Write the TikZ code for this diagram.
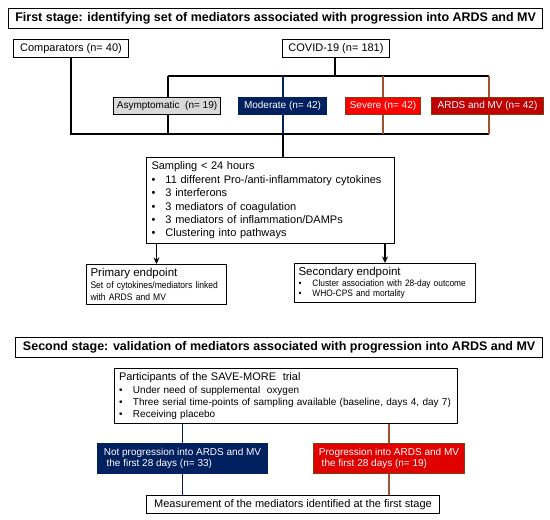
\documentclass[tikz,border=0pt]{standalone}
\usepackage{fontspec}
\setmainfont{Liberation Sans}
\newfontfamily\narrowfont[FakeStretch=0.9]{Liberation Sans}
\usetikzlibrary{arrows.meta}
\definecolor{navy}{HTML}{002060}
\definecolor{sevred}{HTML}{FF0000}
\definecolor{ardsred}{HTML}{C00000}
\definecolor{brn}{HTML}{7F3F10}
\definecolor{brnline}{HTML}{A0522D}
\definecolor{asy}{HTML}{D9D9D9}
\definecolor{progred}{HTML}{E00000}
\newcommand{\bul}[1][13pt]{\makebox[#1][l]{\textbullet}}
\begin{document}
\begin{tikzpicture}[x=1pt,y=-1pt,
  box/.style={draw=black, line width=1pt, inner sep=0pt, anchor=north west,
    font=\fontsize{11}{13}\selectfont},
  rowbox/.style={box, font=\fontsize{10}{12}\selectfont, minimum height=17},
  ttl/.style={draw=black, line width=1.3pt, inner sep=0pt, anchor=north west,
    font=\bfseries\fontsize{12.5}{14}\selectfont},
  conn/.style={line width=1.1pt},
  arr/.style={line width=1.1pt, -{Stealth[length=6.5pt,width=6pt]}}
]
\useasboundingbox (0,0) rectangle (550,520);

% ---------- first stage ----------
\node[ttl, minimum width=534, minimum height=20] (t1) at (8,8)
  {First stage: identifying set of mediators associated with progression into ARDS and MV};
\node[box, minimum width=115, minimum height=18] (comp) at (13,39) {Comparators (n= 40)};
\node[box, minimum width=107, minimum height=18] (covid) at (282,39) {COVID-19 (n= 181)};

\node[rowbox, fill=asy, minimum width=107] (asym) at (113,97) {Asymptomatic\ \ (n= 19)};
\node[rowbox, draw=navy, fill=navy, text=white, minimum width=88] (mod) at (238,97) {Moderate (n= 42)};
\node[rowbox, draw=brn, fill=sevred, text=white, minimum width=75] (sev) at (345,97) {Severe (n= 42)};
\node[rowbox, draw=brn, fill=ardsred, text=white, minimum width=112] (ards) at (431,97) {ARDS and MV (n= 42)};

\coordinate (hc) at (335,76);
\coordinate (hL) at (168,76);
\coordinate (hM) at (283,76);
\coordinate (hS) at (383,76);
\coordinate (hR) at (489,76);
\coordinate (lo) at (0,134);

\draw[conn] (covid.south -| hc) -- (hc);
\draw[conn] (hL) -- (hR);
\draw[conn] (hL) -- (hL |- asym.north);
\draw[conn, navy] (hM) -- (hM |- mod.north);
\draw[conn, brnline] (hS) -- (hS |- sev.north);
\draw[conn, brnline] (hR) -- (hR |- ards.north);

\node[box, minimum width=248, minimum height=86, inner xsep=5pt, text width=238, align=left,
  font=\fontsize{11}{13.4}\selectfont] (samp) at (146,157)
  {Sampling < 24 hours\\
   \bul[14pt]11 different Pro-/anti-inflammatory cytokines\\
   \bul[14pt]3 interferons\\
   \bul[14pt]3 mediators of coagulation\\
   \bul[14pt]3 mediators of inflammation/DAMPs\\
   \bul[14pt]Clustering into pathways};

\draw[conn] (comp.south) |- (hR |- lo);
\draw[conn] (hL |- asym.south) -- (hL |- lo);
\draw[conn, navy] (hM |- mod.south) -- (hM |- lo);
\draw[conn, brnline] (hS |- sev.south) -- (hS |- lo);
\draw[conn, brnline] (hR |- ards.south) -- (hR |- lo);
\draw[conn] (hM |- lo) -- (hM |- samp.north);

\node[box, minimum width=140, minimum height=40, inner xsep=4pt, text width=132, align=left,
  font=\narrowfont\fontsize{9.5}{11.5}\selectfont] (prim) at (86,264)
  {{\rmfamily\fontsize{11.5}{12}\selectfont Primary endpoint}\\[0.5pt]
   \mbox{Set of cytokines/mediators linked}\\ \mbox{with ARDS and MV}};
\node[box, minimum width=181, minimum height=39, inner xsep=4pt, text width=173, align=left,
  font=\narrowfont\fontsize{9.3}{10.5}\selectfont] (sec) at (294,263)
  {{\rmfamily\fontsize{11.5}{12}\selectfont Secondary endpoint}\\[0.5pt]
   \mbox{\bul[14pt]Cluster association with\ 28-day outcome}\\ \mbox{\bul[14pt]WHO-CPS and mortality}};

\draw[arr] (prim.north |- samp.south) -- (prim.north);
\draw[arr] (sec.north |- samp.south) -- (sec.north);

% ---------- second stage ----------
\node[ttl, minimum width=527, minimum height=20] (t2) at (15,337)
  {Second stage: validation of mediators associated with progression into ARDS and MV};
\node[box, minimum width=343, minimum height=55, inner xsep=4.5pt, text width=334, align=left,
  font=\fontsize{10}{12.3}\selectfont] (save) at (114,368)
  {{\fontsize{11}{12}\selectfont Participants of the SAVE-MORE\ \ trial}\\[0.5pt]
   \bul[14pt]Under need of supplemental\ \ oxygen\\
   \bul[14pt]Three serial time-points of sampling available (baseline, days 4, day 7)\\
   \bul[14pt]Receiving placebo};

\node[box, draw=navy, fill=navy, text=white, minimum width=170, minimum height=30,
  align=left, font=\fontsize{10}{11.5}\selectfont] (notp) at (97,443)
  {Not progression into ARDS and MV\\ \ the first 28 days (n= 33)};
\node[box, draw=brn, fill=progred, text=white, minimum width=151, minimum height=30,
  align=left, font=\fontsize{10}{11.5}\selectfont] (prog) at (313,443)
  {Progression into ARDS and MV\\ \ the first 28 days (n= 19)};

\node[box, minimum width=293, minimum height=18] (meas) at (146,495)
  {Measurement of the mediators identified at the first stage};

\draw[conn, navy] (notp.north |- save.south) -- (notp.north);
\draw[conn, brnline] (prog.north |- save.south) -- (prog.north);
\draw[conn, navy] (notp.south) -- (notp.south |- meas.north);
\draw[conn, brnline] (prog.south) -- (prog.south |- meas.north);
\end{tikzpicture}
\end{document}
